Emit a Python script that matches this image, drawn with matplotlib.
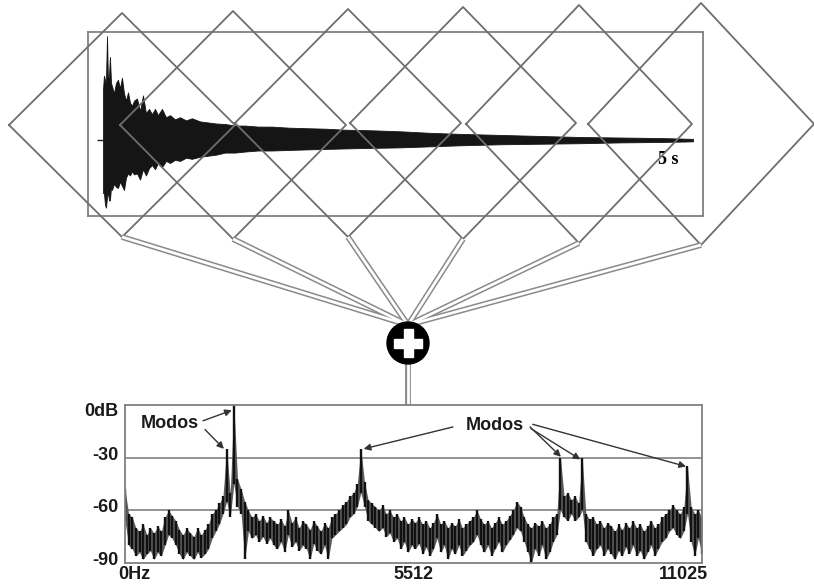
import numpy as np
import matplotlib.pyplot as plt
from matplotlib.patches import Ellipse, Rectangle

# waveform envelope (time in s, normalised amplitude)
wave_t = [0.000, 0.008, 0.017, 0.025, 0.034, 0.042, 0.051, 0.059, 0.068, 0.076,
          0.093, 0.110, 0.127, 0.144, 0.161, 0.178, 0.195, 0.212, 0.229, 0.246,
          0.263, 0.288, 0.314, 0.339, 0.364, 0.390, 0.415, 0.441, 0.466, 0.500,
          0.534, 0.568, 0.610, 0.653, 0.703, 0.754, 0.822, 0.890, 0.958, 1.034,
          1.119, 1.203, 1.314, 1.432, 1.568, 1.712, 1.881, 2.051, 2.263, 2.517,
          2.771, 3.025, 3.364, 3.703, 4.042, 4.381, 4.720, 5.000]
wave_top = [0.48, 0.62, 0.58, 0.55, 1.00, 0.58, 0.62, 0.80, 0.55, 0.52,
            0.45, 0.55, 0.58, 0.50, 0.60, 0.45, 0.38, 0.46, 0.36, 0.33,
            0.38, 0.40, 0.28, 0.43, 0.26, 0.30, 0.25, 0.30, 0.24, 0.30,
            0.22, 0.24, 0.20, 0.22, 0.19, 0.21, 0.18, 0.17, 0.16, 0.155,
            0.14, 0.14, 0.13, 0.13, 0.12, 0.115, 0.11, 0.10, 0.095, 0.085,
            0.07, 0.06, 0.05, 0.04, 0.03, 0.025, 0.02, 0.012]
wave_bot = [-0.51, -0.51, -0.62, -0.65, -0.55, -0.50, -0.58, -0.58, -0.45, -0.48,
            -0.42, -0.45, -0.46, -0.40, -0.44, -0.48, -0.36, -0.32, -0.34, -0.30,
            -0.33, -0.32, -0.38, -0.28, -0.34, -0.27, -0.24, -0.28, -0.22, -0.26,
            -0.20, -0.22, -0.19, -0.20, -0.17, -0.18, -0.16, -0.15, -0.14, -0.12,
            -0.12, -0.11, -0.10, -0.10, -0.095, -0.09, -0.085, -0.08, -0.075, -0.07,
            -0.06, -0.05, -0.04, -0.035, -0.03, -0.022, -0.018, -0.012]

# spectrum band per bin (upper / lower level in dB), 0 .. 11025 Hz
spec_hi = [
    -48, -62, -64, -70, -72, -68, -74, -70, -73, -69,
    -72, -64, -60, -63, -66, -71, -74, -70, -73, -75,
    -70, -74, -71, -68, -62, -60, -56, -52, -25, -50,
    0, -42, -48, -55, -60, -64, -62, -66, -63, -67,
    -64, -66, -68, -65, -69, -60, -67, -64, -70, -66,
    -68, -71, -66, -69, -72, -67, -70, -64, -62, -60,
    -57, -55, -52, -50, -45, -25, -44, -54, -56, -58,
    -60, -57, -62, -60, -64, -62, -66, -64, -68, -65,
    -67, -64, -68, -66, -70, -67, -62, -68, -66, -70,
    -67, -69, -65, -70, -68, -66, -64, -60, -65, -68,
    -66, -70, -67, -64, -68, -66, -63, -60, -55, -58,
    -64, -68, -70, -67, -69, -66, -70, -68, -64, -62,
    -30, -52, -50, -54, -52, -56, -30, -62, -65, -64,
    -68, -66, -70, -67, -69, -72, -68, -71, -67, -70,
    -66, -70, -68, -72, -69, -66, -70, -68, -64, -62,
    -60, -57, -60, -62, -58, -35, -58, -62, -60, -64,
]
spec_lo = [
    -66, -80, -82, -86, -84, -88, -85, -83, -88, -84,
    -86, -80, -74, -76, -80, -85, -88, -84, -86, -88,
    -84, -87, -85, -82, -76, -72, -68, -62, -55, -64,
    -45, -58, -62, -88, -72, -76, -74, -78, -75, -79,
    -76, -80, -82, -78, -84, -74, -81, -78, -83, -80,
    -82, -88, -79, -83, -85, -80, -88, -76, -74, -72,
    -70, -68, -64, -62, -58, -50, -58, -66, -68, -70,
    -72, -70, -75, -73, -78, -76, -82, -78, -84, -80,
    -82, -79, -85, -81, -86, -82, -76, -84, -80, -88,
    -82, -85, -80, -86, -83, -80, -78, -74, -80, -84,
    -80, -86, -82, -78, -84, -80, -77, -74, -70, -72,
    -78, -84, -90, -82, -86, -80, -88, -84, -78, -74,
    -60, -64, -66, -62, -66, -64, -60, -78, -82, -86,
    -82, -80, -86, -82, -85, -88, -83, -86, -81, -85,
    -80, -86, -83, -88, -84, -80, -86, -82, -78, -76,
    -72, -70, -74, -76, -72, -62, -78, -86, -76, -85,
]
spec_f = np.linspace(0, 11025, len(spec_hi))

y_ticks = [0, -30, -60, -90]
y_labels = ['0dB', '-30', '-60', '-90']
x_labels = ['0Hz', '5512', '11025']

# mode arrows: (start Hz, start dB, peak Hz, peak dB)
modes_left = [(1490, -9, 2040, -3), (1530, -14, 1890, -25)]
modes_right = [(6267, -12.5, 4560, -25), (7740, -12.5, 8330, -29.5),
               (7760, -13.5, 8700, -31), (7790, -11, 10720, -35)]

W, H = 814, 588
fig = plt.figure(figsize=(W / 100, H / 100), dpi=100)
fig.patch.set_facecolor('white')

def px_axes(x0, y0, x1, y1, z):
    return fig.add_axes([x0 / W, 1 - y1 / H, (x1 - x0) / W, (y1 - y0) / H], zorder=z)

# --- waveform box
axw = px_axes(88, 32, 703, 216, 1)
axw.fill_between(wave_t, wave_bot, wave_top, color='#151515', lw=0.6, edgecolor='#151515')
axw.hlines(0, -0.05, 0, color='#222', lw=1)
axw.set_xlim(-0.127, 5.085)
axw.set_ylim(-0.73, 1.04)
axw.set_xticks([])
axw.set_yticks([])
for s in axw.spines.values():
    s.set_color('#808080')
    s.set_linewidth(1.3)
axw.text(4.79, -0.19, '5 s', fontsize=13, fontweight='bold',
         family='Liberation Serif', ha='center', va='center')

# --- diagram overlay (windows + summing node)
axd = px_axes(0, 0, W, H, 2)
axd.set_xlim(0, W)
axd.set_ylim(H, 0)
axd.axis('off')
axd.patch.set_alpha(0)

win_cx = [122, 233, 348, 463, 579, 701]
win_cy = [125, 125, 123, 123, 124, 124]
win_hy = [112, 114, 114, 116, 119, 121]
win_hx = 113
node = (408, 343)

for cx, cy, hy in zip(win_cx, win_cy, win_hy):
    axd.plot([cx - win_hx, cx, cx + win_hx, cx, cx - win_hx],
             [cy, cy - hy, cy, cy + hy, cy], color='#6e6e6e', lw=1.3)
for cx, cy, hy in zip(win_cx, win_cy, win_hy):
    axd.plot([cx, node[0]], [cy + hy, node[1] - 18], color='#8a8a8a', lw=4.2,
             solid_capstyle='butt')
for cx, cy, hy in zip(win_cx, win_cy, win_hy):
    axd.plot([cx, node[0]], [cy + hy, node[1] - 18], color='white', lw=2.0,
             solid_capstyle='butt')
axd.plot([node[0], node[0]], [node[1], 405], color='#8a8a8a', lw=4.2, solid_capstyle='butt')
axd.plot([node[0], node[0]], [node[1], 404], color='white', lw=2.0, solid_capstyle='butt')
axd.add_patch(Ellipse(node, 42, 42, color='black', zorder=5))
axd.add_patch(Rectangle((node[0] - 14, node[1] - 4.5), 28, 9, color='white', zorder=6))
axd.add_patch(Rectangle((node[0] - 4.5, node[1] - 14), 9, 28, color='white', zorder=6))

# --- spectrum
axs = px_axes(125, 405, 702, 563, 3)
axs.fill_between(spec_f, spec_lo, spec_hi, color='#5c5c5c', lw=0)
axs.vlines(spec_f, spec_lo, spec_hi, color='#111111', lw=1.7)
for v in (-30, -60):
    axs.axhline(v, color='#808080', lw=1.2, zorder=0)
axs.set_xlim(0, 11025)
axs.set_ylim(-90, 0)
axs.set_xticks([])
axs.set_yticks([])
for s in axs.spines.values():
    s.set_color('#808080')
    s.set_linewidth(1.3)

lab = dict(fontsize=13, fontweight='bold', family='Liberation Sans', color='#1a1a1a')
ytr = axs.get_yaxis_transform()
for v, t in zip(y_ticks, y_labels):
    yy = v - 3.5 if v == 0 else v + 1.5
    axs.text(-0.012, yy, t, transform=ytr, ha='right', va='center', **lab)
xtr = axs.transAxes
axs.text(-0.012, -0.075, x_labels[0], transform=xtr, ha='left', va='center', **lab)
axs.text(0.5, -0.075, x_labels[1], transform=xtr, ha='center', va='center', **lab)
axs.text(1.01, -0.075, x_labels[2], transform=xtr, ha='right', va='center', **lab)

axs.text(860, -10.5, 'Modos', ha='center', va='center', **lab)
axs.text(7070, -11.5, 'Modos', ha='center', va='center', **lab)
arrow = dict(arrowstyle='-|>', color='#333333', lw=1.0, mutation_scale=10,
             shrinkA=0, shrinkB=0)
for sx, sy, px, py in modes_left + modes_right:
    axs.annotate('', xy=(px, py), xytext=(sx, sy), arrowprops=arrow,
                 annotation_clip=False)

fig.savefig('out.png', dpi=100)
